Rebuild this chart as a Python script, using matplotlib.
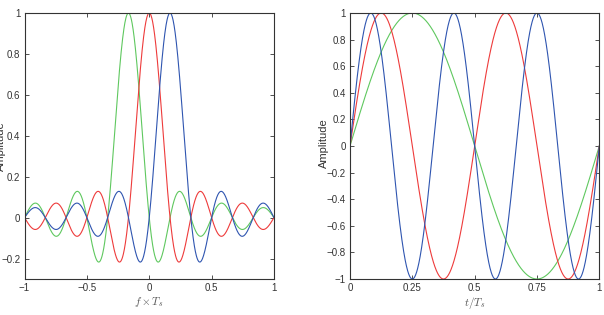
import numpy as np
import matplotlib
matplotlib.use("Agg")
import matplotlib.pyplot as plt

# subcarriers: green, red, blue
subcarrier_k = [-1, 0, 1]          # spectral shift in units of 1/N
carrier_cycles = [1, 2, 3]         # cycles per symbol in time domain
spacing_n = 6                      # zero spacing of the sinc is 1/6
colors = ['#5fc85f', '#ee3b3b', '#2f55b0']

freq_ticks = [-1, -0.5, 0, 0.5, 1]
freq_tick_labels = ['\u22121', '\u22120.5', '0', '0.5', '1']
amp_ticks_left = [-0.2, 0, 0.2, 0.4, 0.6, 0.8, 1]
amp_labels_left = ['\u22120.2', '0', '0.2', '0.4', '0.6', '0.8', '1']
time_ticks = [0, 0.25, 0.5, 0.75, 1]
time_tick_labels = ['0', '0.25', '0.5', '0.75', '1']
amp_ticks_right = [-1, -0.8, -0.6, -0.4, -0.2, 0, 0.2, 0.4, 0.6, 0.8, 1]
amp_labels_right = ['\u22121', '\u22120.8', '\u22120.6', '\u22120.4', '\u22120.2',
                    '0', '0.2', '0.4', '0.6', '0.8', '1']

plt.rcParams['font.family'] = ['Liberation Sans', 'DejaVu Sans']
plt.rcParams['mathtext.fontset'] = 'cm'

fig = plt.figure(figsize=(6.04, 3.15), dpi=100)
W, H = 604.0, 315.0
ax1 = fig.add_axes([24.5 / W, 1 - 279 / H, (274 - 24.5) / W, (279 - 13) / H])
ax2 = fig.add_axes([350 / W, 1 - 279 / H, (599.3 - 350) / W, (279 - 13) / H])

f = np.linspace(-1, 1, 1000)
for k, c in zip(subcarrier_k, colors):
    ax1.plot(f, np.sinc(spacing_n * f - k), color=c, lw=0.8)

t = np.linspace(0, 1, 1000)
for m, c in zip(carrier_cycles, colors):
    ax2.plot(t, np.sin(2 * np.pi * m * t), color=c, lw=0.8)

ax1.set_xlim(-1, 1)
ax1.set_ylim(-0.3, 1)
ax1.set_xticks(freq_ticks)
ax1.set_xticklabels(freq_tick_labels)
ax1.set_yticks(amp_ticks_left)
ax1.set_yticklabels(amp_labels_left)
ax1.set_xlabel(r'$f \times T_s$', fontsize=8, color='#555555', labelpad=1)
ax1.set_ylabel('Amplitude', fontsize=8, color='#333333')
ax1.yaxis.set_label_coords(-0.075, 0.5)

ax2.set_xlim(0, 1)
ax2.set_ylim(-1, 1)
ax2.set_xticks(time_ticks)
ax2.set_xticklabels(time_tick_labels)
ax2.set_yticks(amp_ticks_right)
ax2.set_yticklabels(amp_labels_right)
ax2.set_xlabel(r'$t/T_s$', fontsize=8, color='#555555', labelpad=1)
ax2.set_ylabel('Amplitude', fontsize=8, color='#333333')
ax2.yaxis.set_label_coords(-0.085, 0.51)

for ax in (ax1, ax2):
    ax.tick_params(direction='in', top=True, right=True, length=3,
                   width=0.6, labelsize=7, pad=3, colors='#333333')
    for s in ax.spines.values():
        s.set_linewidth(0.8)
        s.set_color('#333333')

fig.savefig('out.png', dpi=100)
